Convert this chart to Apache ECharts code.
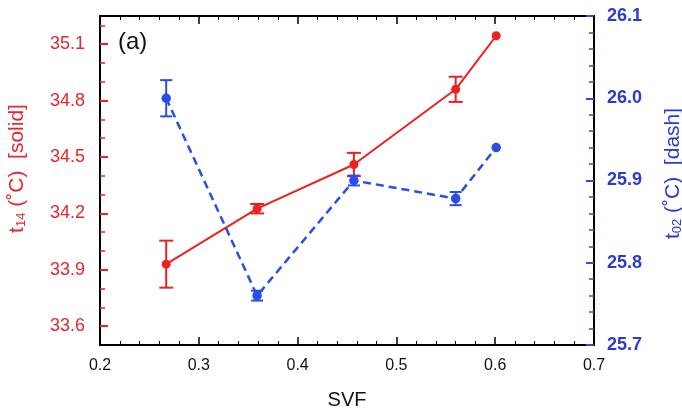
<!DOCTYPE html>
<html><head><meta charset="utf-8">
<script src="https://cdn.jsdelivr.net/npm/echarts@6/dist/echarts.min.js"></script>
<style>html,body{margin:0;padding:0;background:#fff}#c{width:682px;height:409px}</style>
</head><body><div id="c"></div>
<script>
const svf = [0.267, 0.359, 0.457, 0.560, 0.601];
const t14 = [33.93, 34.225, 34.46, 34.86, 35.145];
const t14Err = [0.125, 0.025, 0.062, 0.067, 0];
const t02 = [26.0, 25.76, 25.90, 25.878, 25.94];
const t02Err = [0.022, 0.006, 0.006, 0.008, 0];
const leftTicks = [33.6, 33.9, 34.2, 34.5, 34.8, 35.1];
const leftMinor = [33.6, 33.7, 33.8, 33.9, 34.0, 34.1, 34.2, 34.3, 34.4, 34.5, 34.6, 34.7, 34.8, 34.9, 35.0, 35.1, 35.2];

const RED = '#ee2020', RED_T = '#e8262c', BLUE = '#2a4ce8', BLUE_T = '#2b3bd2';
const FONT = 'Liberation Sans';

function errSeries(name, xs, ys, es, yIdx, color, halfW) {
  return {
    type: 'custom', name, xAxisIndex: 0, yAxisIndex: yIdx, z: 3,
    data: xs.map((x, i) => [x, ys[i] - es[i], ys[i] + es[i]]),
    renderItem: (params, api) => {
      const lo = api.coord([api.value(0), api.value(1)]);
      const hi = api.coord([api.value(0), api.value(2)]);
      if (Math.abs(lo[1] - hi[1]) < 1) return null;
      const st = { stroke: color, lineWidth: 2 };
      return { type: 'group', children: [
        { type: 'line', shape: { x1: lo[0], y1: lo[1], x2: hi[0], y2: hi[1] }, style: st },
        { type: 'line', shape: { x1: lo[0] - halfW, y1: lo[1], x2: lo[0] + halfW, y2: lo[1] }, style: st },
        { type: 'line', shape: { x1: hi[0] - halfW, y1: hi[1], x2: hi[0] + halfW, y2: hi[1] }, style: st }
      ]};
    }
  };
}

const chart = echarts.init(document.getElementById('c'));
const xCommon = {
  type: 'value', min: 0.2, max: 0.7, interval: 0.1,
  axisLine: { show: false },
  axisTick: { inside: true, length: 8, lineStyle: { color: '#000', width: 1.5 } },
  minorTick: { show: true, splitNumber: 5, length: 4, lineStyle: { color: '#000', width: 1 } },
  splitLine: { show: false }
};
chart.setOption({
  animation: false,
  grid: { left: 100, right: 88, top: 16, bottom: 64, containLabel: false, outerBoundsMode: 'none',
    show: true, borderColor: '#000', borderWidth: 2, backgroundColor: 'transparent' },
  xAxis: [
    Object.assign({}, xCommon, {
      position: 'bottom', name: 'SVF', nameLocation: 'middle', nameGap: 45,
      nameTextStyle: { fontFamily: FONT, fontSize: 20, color: '#111' },
      axisLabel: { fontFamily: FONT, fontSize: 16, color: '#111', margin: 13,
        formatter: v => v.toFixed(1) }
    }),
    Object.assign({}, xCommon, { position: 'top', axisLabel: { show: false } })
  ],
  yAxis: [
    {
      type: 'value', position: 'left', min: 33.5, max: 35.25,
      name: '{n|t}{s|14}{n| (˚C)  [solid]}', nameLocation: 'middle', nameGap: 72,
      nameTextStyle: { padding: [0, 0, 0, 24], rich: {
        n: { fontFamily: FONT, fontSize: 21, color: RED_T },
        s: { fontFamily: FONT, fontSize: 13, color: RED_T, verticalAlign: 'bottom', padding: [9, 0, 0, 0] } } },
      axisLine: { show: false },
      axisTick: { inside: true, length: 8, customValues: leftTicks, lineStyle: { color: RED, width: 2 } },
      axisLabel: { customValues: leftTicks, fontFamily: FONT, fontSize: 18, color: RED_T, margin: 15,
        formatter: v => v.toFixed(1) },
      splitLine: { show: false }
    },
    {
      type: 'value', position: 'right', min: 25.7, max: 26.1, interval: 0.1,
      name: '{n|t}{s|02}{n| (˚C)  [dash]}', nameLocation: 'middle', nameGap: 68,
      nameTextStyle: { padding: [0, 0, 0, 14], rich: {
        n: { fontFamily: FONT, fontSize: 21, color: BLUE_T },
        s: { fontFamily: FONT, fontSize: 13, color: BLUE_T, verticalAlign: 'bottom', padding: [9, 0, 0, 0] } } },
      axisLine: { show: false },
      axisTick: { inside: true, length: 8, lineStyle: { color: BLUE, width: 2 } },
      minorTick: { show: true, splitNumber: 5, length: 5, lineStyle: { color: BLUE, width: 1.5 } },
      axisLabel: { fontFamily: FONT, fontSize: 18, color: BLUE_T, margin: 13, fontWeight: 'bold',
        formatter: v => v.toFixed(1) },
      splitLine: { show: false }
    },
    {
      type: 'value', position: 'left', min: 33.5, max: 35.25,
      axisLine: { show: false },
      axisTick: { inside: true, length: 5, customValues: leftMinor, lineStyle: { color: RED, width: 1.5 } },
      axisLabel: { show: false }, splitLine: { show: false }
    }
  ],
  graphic: [{ type: 'text', left: 118, top: 30, style: { text: '(a)', fontFamily: FONT, fontSize: 24, fill: '#111' } }],
  series: [
    errSeries('t14err', svf, t14, t14Err, 0, RED, 7),
    errSeries('t02err', svf, t02, t02Err, 1, BLUE, 6),
    { type: 'line', name: 't14', xAxisIndex: 0, yAxisIndex: 0, z: 4,
      data: svf.map((x, i) => [x, t14[i]]), symbol: 'circle', symbolSize: 9,
      itemStyle: { color: RED }, lineStyle: { color: RED, width: 2 } },
    { type: 'line', name: 't02', xAxisIndex: 0, yAxisIndex: 1, z: 4,
      data: svf.map((x, i) => [x, t02[i]]), symbol: 'circle', symbolSize: 9.5,
      itemStyle: { color: BLUE }, lineStyle: { color: BLUE, width: 2.5, type: [8, 5] } }
  ]
});
</script></body></html>
